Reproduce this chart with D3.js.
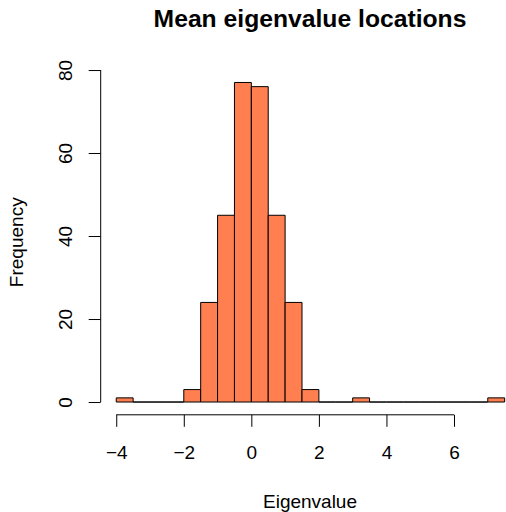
<!DOCTYPE html>
<html>
<head>
<meta charset="utf-8">
<script src="https://cdn.jsdelivr.net/npm/d3@7"></script>
<style>
  body { margin: 0; background: #fff; }
  svg { display: block; font-family: "Liberation Sans", Arial, Helvetica, sans-serif; }
</style>
</head>
<body>
<svg width="506" height="512"></svg>
<script>
const svg = d3.select('svg');

// histogram breaks (bin edges) and counts per bin
const breaks = [-4, -3.5, -3, -2.5, -2, -1.5, -1, -0.5, 0, 0.5, 1, 1.5, 2,
                2.5, 3, 3.5, 4, 4.5, 5, 5.5, 6, 6.5, 7, 7.5];
const counts = [1, 0, 0, 0, 3, 24, 45, 77, 76, 45, 24, 3, 0,
                0, 1, 0, 0, 0, 0, 0, 0, 0, 1];
const xTicks = [-4, -2, 0, 2, 4, 6];
const yTicks = [0, 20, 40, 60, 80];

const title = 'Mean eigenvalue locations';
const xLabel = 'Eigenvalue';
const yLabel = 'Frequency';

const bins = counts.map((c, i) => ({x0: breaks[i], x1: breaks[i + 1], count: c}));

// R style: 4% padding around data range
const xMin = d3.min(breaks), xMax = d3.max(breaks);
const yMax = d3.max(counts);
const xPad = (xMax - xMin) * 0.04;
const yPad = yMax * 0.04;

const plot = { left: 100.7, right: 520.2, top: 69.7, bottom: 414.8 };

const x = d3.scaleLinear()
  .domain([xMin - xPad, xMax + xPad])
  .range([plot.left, plot.right]);

const y = d3.scaleLinear()
  .domain([-yPad, yMax + yPad])
  .range([plot.bottom, plot.top]);

// bars as closed paths so that empty bins still show their outline on the baseline
const barPath = d => {
  const p = d3.path();
  p.moveTo(x(d.x0), y(0));
  p.lineTo(x(d.x0), y(d.count));
  p.lineTo(x(d.x1), y(d.count));
  p.lineTo(x(d.x1), y(0));
  p.closePath();
  return p.toString();
};

svg.append('g')
  .selectAll('path').data(bins)
  .enter().append('path')
    .attr('d', barPath)
    .attr('fill', '#FF7F50')
    .attr('stroke', '#000')
    .attr('stroke-width', 1);

// x axis
const xAxis = d3.axisBottom(x)
  .tickValues(xTicks)
  .tickSize(12)
  .tickSizeOuter(0);

const gx = svg.append('g')
  .attr('transform', `translate(0,${plot.bottom})`)
  .call(xAxis);
gx.select('.domain').remove();
gx.append('line')
  .attr('x1', x(d3.min(xTicks))).attr('x2', x(d3.max(xTicks)))
  .attr('stroke', '#000');
gx.selectAll('.tick line').attr('stroke', '#000');
gx.selectAll('.tick text')
  .attr('y', 44)
  .attr('dy', null)
  .attr('fill', '#000')
  .style('font-size', '19px');

// y axis
const yAxis = d3.axisLeft(y)
  .tickValues(yTicks)
  .tickSize(12)
  .tickSizeOuter(0);

const gy = svg.append('g')
  .attr('transform', `translate(${plot.left},0)`)
  .call(yAxis);
gy.select('.domain').remove();
gy.append('line')
  .attr('y1', y(d3.min(yTicks))).attr('y2', y(d3.max(yTicks)))
  .attr('stroke', '#000');
gy.selectAll('.tick line').attr('stroke', '#000');
gy.selectAll('.tick text')
  .attr('x', 0)
  .attr('dy', null)
  .attr('transform', 'translate(-29,0) rotate(-90)')
  .attr('text-anchor', 'middle')
  .attr('fill', '#000')
  .style('font-size', '19px');

// titles
svg.append('text')
  .attr('x', 310)
  .attr('y', 27)
  .attr('text-anchor', 'middle')
  .style('font-size', '24.7px')
  .style('font-weight', 'bold')
  .text(title);

svg.append('text')
  .attr('x', 310)
  .attr('y', 508)
  .attr('text-anchor', 'middle')
  .style('font-size', '19px')
  .text(xLabel);

svg.append('text')
  .attr('transform', `translate(23,${(plot.top + plot.bottom) / 2}) rotate(-90)`)
  .attr('text-anchor', 'middle')
  .style('font-size', '19px')
  .text(yLabel);
</script>
</body>
</html>
